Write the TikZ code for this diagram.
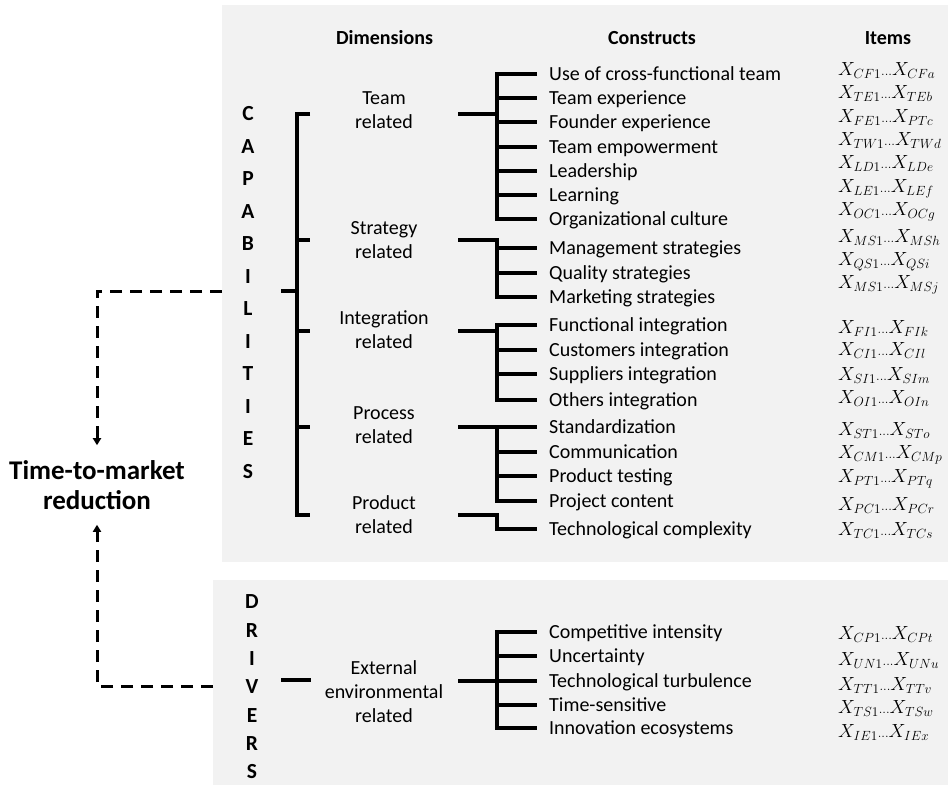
\documentclass[tikz,border=0pt]{standalone}
\usepackage{fix-cm}
\usepackage{fontspec}
\setmainfont{Carlito}
\usetikzlibrary{arrows.meta}
\definecolor{panelgray}{HTML}{F2F2F2}
\tikzset{
  panel/.style={fill=panelgray, draw=none},
  headtext/.style={font=\bfseries\fontsize{20}{24}\selectfont, inner sep=0pt},
  letter/.style={font=\bfseries\fontsize{21.5}{24}\selectfont, inner sep=0pt},
  dimtext/.style={font=\fontsize{20}{24}\selectfont, align=center, inner sep=0pt},
  cnstext/.style={font=\fontsize{20}{24}\selectfont, anchor=west, inner sep=0pt,
                  text height=15pt, text depth=2pt},
  itemtext/.style={font=\fontsize{19}{24}\selectfont, anchor=west, inner sep=0pt,
                   text height=15pt, text depth=2pt},
  goal/.style={font=\bfseries\fontsize{27}{30}\selectfont, align=center,
               inner xsep=0pt, inner ysep=15pt},
  tree/.style={line width=3.5pt, line join=miter},
  flow/.style={line width=3pt, dash pattern=on 12pt off 8pt,
               -{Triangle[length=7pt,width=8pt]}},
}
\begin{document}
\begin{tikzpicture}[x=1pt,y=-1pt]
\useasboundingbox (0,0) rectangle (948,785);

% background panels
\fill[panel] (222,5) rectangle (948,562);
\fill[panel] (213,580) rectangle (948,785);

% column headers
\node[headtext] (hdim) at (384.5,38) {Dimensions};
\node[headtext] (hcon) at (652,38) {Constructs};
\node[headtext] (hitm) at (888,38) {Items};

% vertical group words
\foreach \ch [count=\k from 0] in {C,A,P,A,B,I,L,I,T,I,E,S}
  \node[letter] (cap\k) at (248,{114+32.5*\k}) {\ch};
\foreach \ch [count=\k from 0] in {D,R,I,V,E,R,S}
  \node[letter] (drv\k) at (252,{602+28.3*\k}) {\ch};

% dimensions
\node[dimtext] (dteam)  at (384,110) {Team\\related};
\node[dimtext] (dstrat) at (384,240) {Strategy\\related};
\node[dimtext] (dinteg) at (384,330) {Integration\\related};
\node[dimtext] (dproc)  at (384,425) {Process\\related};
\node[dimtext] (dprod)  at (384,515) {Product\\related};
\node[dimtext] (dext)   at (384,692) {External\\environmental\\related};

% constructs
\foreach \nm/\yy/\txt in {
  cf/74/Use of cross-functional team, te/98/Team experience,
  fe/122/Founder experience, tw/147/Team empowerment,
  ld/171/Leadership, le/195/Learning, oc/219/Organizational culture,
  ms/248/Management strategies, qs/273/Quality strategies,
  mk/297/Marketing strategies,
  fi/325/Functional integration, ci/350/Customers integration,
  si/374/Suppliers integration, oi/400/Others integration,
  st/427/Standardization, cm/452/Communication,
  pt/476/Product testing, pc/501/Project content,
  tc/529/Technological complexity,
  cp/632/Competitive intensity, un/656/Uncertainty,
  tt/681/Technological turbulence, ts/705/Time-sensitive,
  ie/728/Innovation ecosystems}
  \node[cnstext] (\nm) at (549,\yy) {\txt};

% items
\foreach \nm/\yy/\sa/\sb in {
  icf/69/CF/CFa, ite/92/TE/TEb, ife/116/FE/PTc, itw/139/TW/TWd,
  ild/162/LD/LDe, ile/186/LE/LEf, ioc/209/OC/OCg,
  ims/236/MS/MSh, iqs/259/QS/QSi, imk/282/MS/MSj,
  ifi/327/FI/FIk, ici/349/CI/CIl, isi/374/SI/SIm, ioi/397/OI/OIn,
  ist/429/ST/STo, icm/452/CM/CMp, ipt/476/PT/PTq, ipc/504/PC/PCr,
  itc/529/TC/TCs,
  icp/633/CP/CPt, iun/659/UN/UNu, itt/684/TT/TTv, its/707/TS/TSw,
  iie/731/IE/IEx}
  \node[itemtext] (\nm) at (838,\yy) {$X_{\sa1}{\scriptstyle\ldots}X_{\sb}$};

% bracket geometry
\coordinate (stem)  at (297,0);
\coordinate (spine) at (497,0);
\coordinate (lteam)  at (310,114);
\coordinate (lstrat) at (310,240);
\coordinate (linteg) at (310,331);
\coordinate (lproc)  at (310,427);
\coordinate (lprod)  at (310,515);
\coordinate (capstub) at (281,291);
\coordinate (drvstub) at (281,680);
\coordinate (drvstubend) at (311,680);
\coordinate (jteam)  at (458,114);
\coordinate (jstrat) at (458,240);
\coordinate (jinteg) at (458,331);
\coordinate (jproc)  at (458,427);
\coordinate (jprod)  at (458,515);
\coordinate (jext)   at (458,681);

% capabilities bracket
\draw[tree] (lteam) -- (stem |- lteam) -- (stem |- lprod) -- (lprod);
\foreach \d in {lstrat,linteg,lproc}
  \draw[tree] (stem |- \d) -- (\d);
\draw[tree] (capstub) -- (stem |- capstub);

% drivers stub
\draw[tree] (drvstub) -- (drvstubend);

% team related
\draw[tree] (jteam) -- (spine |- jteam);
\draw[tree] ([xshift=-12pt]cf.west) -- (spine |- cf.west) -- (spine |- oc.west) -- ([xshift=-12pt]oc.west);
\foreach \c in {te,fe,tw,ld,le}
  \draw[tree] (spine |- \c.west) -- ([xshift=-12pt]\c.west);

% strategy related
\draw[tree] (jstrat) -- (spine |- jstrat) -- (spine |- mk.west) -- ([xshift=-12pt]mk.west);
\foreach \c in {ms,qs}
  \draw[tree] (spine |- \c.west) -- ([xshift=-12pt]\c.west);

% integration related
\draw[tree] (jinteg) -- (spine |- jinteg);
\draw[tree] ([xshift=-12pt]fi.west) -- (spine |- fi.west) -- (spine |- oi.west) -- ([xshift=-12pt]oi.west);
\foreach \c in {ci,si}
  \draw[tree] (spine |- \c.west) -- ([xshift=-12pt]\c.west);

% process related
\draw[tree] (jproc) -- ([xshift=-12pt]st.west);
\draw[tree] (spine |- st.west) -- (spine |- pc.west) -- ([xshift=-12pt]pc.west);
\foreach \c in {cm,pt}
  \draw[tree] (spine |- \c.west) -- ([xshift=-12pt]\c.west);

% product related
\draw[tree] (jprod) -- (spine |- jprod) -- (spine |- tc.west) -- ([xshift=-12pt]tc.west);

% external environmental related
\draw[tree] (jext) -- ([xshift=-12pt]tt.west);
\draw[tree] ([xshift=-12pt]cp.west) -- (spine |- cp.west) -- (spine |- ie.west) -- ([xshift=-12pt]ie.west);
\foreach \c in {un,ts}
  \draw[tree] (spine |- \c.west) -- ([xshift=-12pt]\c.west);

% outcome and dashed links
\node[goal] (ttm) at (97,485) {Time-to-market\\reduction};
\coordinate (capin) at (222,291);
\coordinate (drvin) at (213,686);
\draw[flow] (capin) -| (ttm.north);
\draw[flow] (drvin) -| (ttm.south);
\end{tikzpicture}
\end{document}
